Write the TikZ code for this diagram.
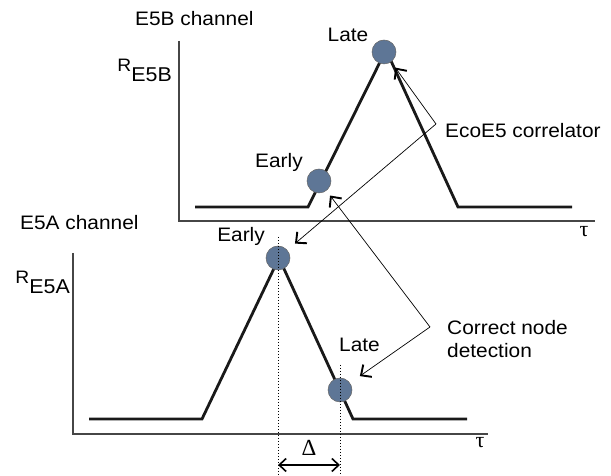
\documentclass[tikz,border=0pt]{standalone}
\usepackage{fontspec}
\setmainfont{Liberation Sans}[FakeStretch=1.07]
\newfontfamily\greekserif{Liberation Serif}
\usetikzlibrary{arrows.meta, positioning}
\definecolor{TapBlue}{RGB}{94,118,150}
\definecolor{AxisGray}{RGB}{70,70,70}

\tikzset{
  axisline/.style={draw=AxisGray, line width=1.4pt},
  corrline/.style={draw=black!90, line width=2.8pt},
  tap/.style={circle, draw=black!60, line width=0.5pt, fill=TapBlue,
              minimum size=24pt, inner sep=0pt},
  lbl/.style={inner sep=0pt, font=\fontsize{19.5}{23}\selectfont},
  rlbl/.style={inner sep=0pt, font=\fontsize{20}{24}\selectfont},
  greek/.style={inner sep=0pt, font=\greekserif\fontsize{#1}{#1}\selectfont},
  pointer/.style={line width=0.7pt,
                  -{Straight Barb[length=8pt,width=15pt,line width=1.9pt]}},
  spanarrow/.style={line width=1.3pt,
                  {Straight Barb[length=7pt,width=13pt,line width=1.6pt]}-{Straight Barb[length=7pt,width=13pt,line width=1.6pt]}},
  guide/.style={line width=0.8pt, dash pattern=on 1.5pt off 1.5pt},
}

\begin{document}
\begin{tikzpicture}[x=1pt, y=1pt]
  \useasboundingbox (0,0) rectangle (611,476);
  \coordinate (floor) at (0,0);
  \coordinate (deltaRow) at (0,11);

  % E5B channel
  \draw[axisline] (179,435) -- (179,255) -- (595,255);
  \draw[corrline] (195,269) -- (308,269) -- (386,426) -- (458,269) -- (572,269);
  \node[tap] (bEarly) at (319,295) {};
  \node[tap] (bLate) at (384,424) {};
  \node[lbl, anchor=base west] (bTitle) at (135,450) {E5B channel};
  \node[rlbl, anchor=base east] (bAxis) at (172,394)
    {\raisebox{10pt}{\fontsize{18}{18}\selectfont R}E5B};
  \node[lbl, anchor=base] (bLateLbl) at (348,434) {Late};
  \node[lbl, anchor=base west] (bEarlyLbl) at (255,308) {Early};
  \node[greek=22] (bTau) at (584,244) {τ};

  % E5A channel
  \draw[axisline] (73,223) -- (73,42) -- (488,42);
  \draw[corrline] (89,57) -- (202,57) -- (279,218) -- (353,57) -- (467,57);
  \node[tap] (aEarly) at (278,218) {};
  \node[tap] (aLate) at (340,86) {};
  \node[lbl, anchor=base west] (aTitle) at (20,246) {E5A channel};
  \node[rlbl, anchor=base east] (aAxis) at (70,182)
    {\raisebox{10.5pt}{\fontsize{18}{18}\selectfont R}E5A};
  \node[lbl, anchor=base east] (aEarlyLbl) at (265,234) {Early};
  \node[lbl, anchor=base west] (aLateLbl) at (339,124) {Late};
  \node[greek=22] (aTau) at (480,33) {τ};

  % offset between the two peaks
  \draw[guide] ([yshift=21pt]aEarly.center) -- (aEarly |- floor);
  \draw[guide] ([yshift=25pt]aLate.center) -- (aLate |- floor);
  \draw[spanarrow] (aEarly |- deltaRow) -- (aLate |- deltaRow);
  \node[greek=23] (delta) at (309,28) {Δ};

  % callouts
  \node[lbl, anchor=base west] (ecoLbl) at (445,338) {EcoE5 correlator};
  \coordinate (ecoFork) at (436,352);
  \draw[pointer, shorten >=7pt] (ecoFork) -- (bLate);
  \draw[pointer, shorten >=10pt] (ecoFork) -- (aEarly);

  \node[lbl, anchor=north west, align=left] (nodeLbl) at (447,156)
    {Correct node\\detection};
  \coordinate (nodeFork) at (430,149);
  \draw[pointer, shorten >=6pt] (nodeFork) -- (bEarly);
  \draw[pointer, shorten >=12pt] (nodeFork) -- (aLate);
\end{tikzpicture}
\end{document}
